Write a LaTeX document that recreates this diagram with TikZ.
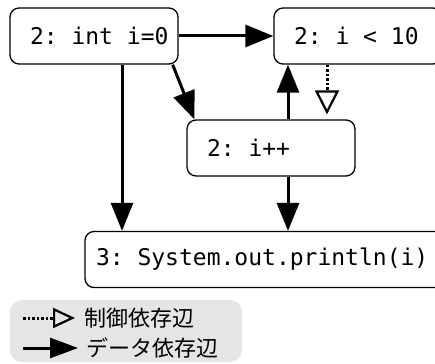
\documentclass[tikz,border=0pt]{standalone}
\usepackage{fontspec}
\setmonofont{DejaVu Sans Mono}
\newfontfamily\jpfont{Noto Sans CJK JP}
\usetikzlibrary{arrows.meta,calc}
\newcommand{\boxtxt}[2]{\makebox[#1][l]{#2}}
\begin{document}
\begin{tikzpicture}[x=1pt,y=-1pt,
  box/.style={draw, line width=1.3pt, rounded corners=9pt, minimum height=56pt,
    inner xsep=20pt, inner ysep=0pt, fill=white,
    font=\fontsize{23}{28}\selectfont\ttfamily},
  data/.style={line width=3pt, -{Triangle[length=28pt,width=22pt]}},
  ctrl/.style={line width=3pt, dash pattern=on 2.5pt off 2pt,
    -{Triangle[open,length=24pt,width=24pt,line width=2.2pt]}},
  datalegend/.style={line width=3pt, -{Triangle[length=28pt,width=20pt]}},
  ctrllegend/.style={line width=3pt, dash pattern=on 2.5pt off 2pt,
    -{Triangle[open,length=22pt,width=20pt,line width=2.2pt]}},
  legtext/.style={anchor=west, inner sep=0pt, font=\jpfont\fontsize{22}{26}\selectfont}
]
\useasboundingbox (0,0) rectangle (435,363);
\clip (0,0) rectangle (435,363);

% nodes
\node[box, minimum width=168pt] (a) at (94,36) {\boxtxt{128pt}{2: int i=0}};
\node[box, minimum width=168pt] (b) at (358,36) {\boxtxt{128pt}{2: i < 10}};
\node[box, minimum width=168pt] (c) at (271,148) {\boxtxt{128pt}{2: i++}};
\node[box, minimum width=360pt, inner xsep=11pt] (d) at (265,259.5) {\boxtxt{338pt}{3: System.out.println(i)}};

% connectors
\draw[data] (a.east) -- (b.west);
\draw[data] ([xshift=-6pt]a.south east) -- ([xshift=8pt]c.north west);
\draw[data] ([xshift=28pt]a.south) -- ([xshift=28pt]a.south |- d.north);
\draw[data] ([xshift=17pt]c.north) -- ([xshift=17pt]c.north |- b.south);
\draw[ctrl, shorten >=5pt] ([xshift=-31pt]b.south) -- ([xshift=-31pt]b.south |- c.north);
\draw[data] ([xshift=17pt]c.south) -- ([xshift=17pt]c.south |- d.north);

% legend
\node[fill=gray!20, rounded corners=12pt, minimum width=232pt, minimum height=62pt, inner sep=0pt] (leg) at (126,331) {};
\coordinate (c1s) at (23,318);
\coordinate (c1e) at (75,318);
\draw[ctrllegend] (c1s) -- (c1e);
\node[legtext] (l1) at (84,318) {制御依存辺};
\coordinate (d1s) at (23,348);
\coordinate (d1e) at (78,348);
\draw[datalegend] (d1s) -- (d1e);
\node[legtext] (l2) at (86,348) {データ依存辺};
\end{tikzpicture}
\end{document}
